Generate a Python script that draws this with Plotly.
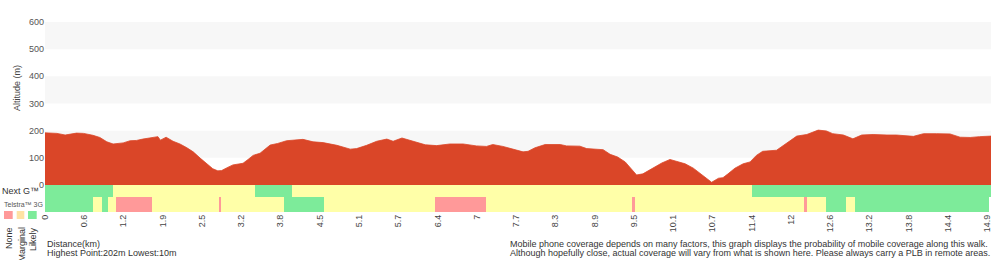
import numpy as np
import plotly.graph_objects as go

# ---------------- data ----------------
DIST_KM = [0.00, 0.19, 0.32, 0.40, 0.50, 0.61, 0.76, 0.87, 0.98, 1.08, 1.24, 1.35, 1.45, 1.55,
           1.67, 1.79, 1.83, 1.92, 2.03, 2.14, 2.25, 2.35, 2.46, 2.56, 2.66, 2.74, 2.80, 2.88,
           2.98, 3.09, 3.14, 3.22, 3.30, 3.41, 3.49, 3.57, 3.69, 3.73, 3.83, 4.09, 4.25, 4.41,
           4.63, 4.84, 4.94, 5.10, 5.26, 5.42, 5.52, 5.66, 5.79, 6.03, 6.21, 6.42, 6.63, 6.84,
           7.00, 7.10, 7.26, 7.37, 7.45, 7.58, 7.66, 7.77, 7.93, 8.17, 8.27, 8.48, 8.59, 8.85,
           8.96, 9.08, 9.20, 9.30, 9.38, 9.48, 9.62, 9.78, 9.91, 10.02, 10.15, 10.28, 10.39,
           10.49, 10.57, 10.68, 10.75, 10.83, 10.94, 11.07, 11.18, 11.28, 11.38, 11.60, 11.71,
           11.81, 11.92, 12.08, 12.18, 12.26, 12.39, 12.49, 12.66, 12.81, 12.95, 13.13, 13.35,
           13.50, 13.77, 13.93, 14.14, 14.35, 14.51, 14.67, 14.82, 15.00]
ELEV_M = [192, 190, 184, 187, 191, 190, 183, 175, 159, 151, 155, 163, 164, 169,
          174, 178, 165, 176, 161, 151, 137, 122, 99, 80, 60, 52, 53, 63,
          74, 78, 80, 94, 109, 117, 132, 147, 153, 156, 163, 168, 159, 156,
          146, 132, 134, 146, 161, 169, 161, 173, 165, 148, 145, 151, 151, 144,
          142, 149, 142, 135, 130, 122, 124, 137, 149, 149, 144, 143, 134, 130,
          113, 103, 85, 56, 37, 41, 60, 81, 94, 87, 78, 62, 41,
          22, 10, 25, 27, 41, 62, 78, 85, 109, 124, 128, 146,
          165, 180, 186, 196, 202, 199, 189, 184, 170, 184, 186, 184,
          184, 179, 189, 189, 188, 176, 175, 178, 180]

X_TICK_LABELS = ["0", "0.6", "1.2", "1.9", "2.5", "3.2", "3.8", "4.5", "5.1", "5.7", "6.4", "7",
                 "7.7", "8.3", "8.9", "9.5", "10.1", "10.7", "11.4", "12", "12.6", "13.2",
                 "13.8", "14.4", "14.9"]
Y_TICKS = [0, 100, 200, 300, 400, 500, 600]

# coverage: N = none, M = marginal, L = likely
NEXTG_BOUNDS = [0.0, 1.08, 3.33, 3.92, 11.21, 15.0]
NEXTG_LEVELS = ["L", "M", "L", "M", "L"]
G3_BOUNDS = [0.0, 0.76, 0.90, 1.00, 1.13, 1.70, 2.77, 2.79, 3.79, 4.42, 6.18, 6.99, 9.31,
             9.36, 12.04, 12.08, 12.38, 12.70, 12.84, 14.97]
G3_LEVELS = ["L", "M", "L", "M", "N", "M", "N", "M", "L", "M", "N", "M", "N", "M", "N",
             "M", "L", "M", "L"]
LEVEL_NAMES = ["None", "Marginal", "Likely"]

# ---------------- styling ----------------
RED = "#da4628"
COL = {"N": "#ff9999", "M": "#ffffa8", "L": "#7deb9a"}
LEGEND_COL = ["#ff9999", "#ffe2a4", "#7deb9a"]
FONT = "Liberation Sans, Arial, Helvetica, sans-serif"
W, H = 1000, 260
ML, MR, MT, MB = 45, 9, 22, 48
PW, PH = W - ML - MR, H - MT - MB
STRIP_PX = 27
SPLIT = STRIP_PX / PH
X_END_TICK = 14.94


def px(x):
    return (x - ML) / PW


def py(y):
    return (H - MB - y) / PH


fig = go.Figure()

# elevation area
fig.add_trace(go.Scatter(x=DIST_KM, y=ELEV_M, mode="lines", fill="tozeroy",
                         fillcolor=RED, line=dict(color=RED, width=0.8),
                         xaxis="x", yaxis="y", hoverinfo="skip", showlegend=False))

# coverage rows (y2 axis in pixel-like units: 0..27)
rows = [(NEXTG_BOUNDS, NEXTG_LEVELS, 21.0, 12.0), (G3_BOUNDS, G3_LEVELS, 7.5, 15.0)]
for bounds, levels, center, thick in rows:
    for lv in ["M", "L", "N"]:
        starts = [bounds[i] for i in range(len(levels)) if levels[i] == lv]
        lens = [bounds[i + 1] - bounds[i] for i in range(len(levels)) if levels[i] == lv]
        if not starts:
            continue
        fig.add_trace(go.Bar(orientation="h", base=starts, x=lens, y=[center] * len(starts),
                             width=[thick] * len(starts),
                             marker=dict(color=COL[lv], line=dict(width=0)),
                             xaxis="x", yaxis="y2", hoverinfo="skip", showlegend=False))

# background bands
shapes = []
for y0 in [100, 300, 500]:
    shapes.append(dict(type="rect", xref="x domain", yref="y", x0=0, x1=1, y0=y0, y1=y0 + 100,
                       fillcolor="#f7f7f7", line=dict(width=0), layer="below"))
# legend squares
for i, (x0, x1) in enumerate([(4, 12.7), (16.7, 24.3), (28, 36.7)]):
    shapes.append(dict(type="rect", xref="paper", yref="paper", x0=px(x0), x1=px(x1),
                       y0=py(219), y1=py(211), fillcolor=LEGEND_COL[i], line=dict(width=0)))

ann = []


def add_text(text, x, y, size=9, color="#333", xanchor="left", yanchor="middle", angle=0):
    ann.append(dict(text=text, x=px(x), y=py(y), xref="paper", yref="paper", showarrow=False,
                    xanchor=xanchor, yanchor=yanchor, textangle=angle,
                    font=dict(size=size, color=color, family=FONT)))


add_text("Altitude (m)", 17, 88, size=9, color="#444", xanchor="center", angle=-90)
add_text("Next G™", 0, 191, size=9, color="#333")
add_text("Telstra™ 3G", 2, 204, size=7, color="#555")
for name, xc in zip(LEVEL_NAMES, [9, 21, 33]):
    add_text(name, xc, 225, size=9, color="#333", xanchor="center", yanchor="top", angle=-90)
add_text("Distance(km)", 45, 244, size=9, color="#333")
add_text("Highest Point:%dm Lowest:%dm" % (max(ELEV_M), min(ELEV_M)), 45, 253, size=9, color="#333")
add_text("Mobile phone coverage depends on many factors, this graph displays the probability of "
         "mobile coverage along this walk.", 508, 244, size=9, color="#333")
add_text("Although hopefully close, actual coverage will vary from what is shown here. Please "
         "always carry a PLB in remote areas.", 508, 253, size=9, color="#333")

fig.update_layout(
    width=W, height=H, margin=dict(l=ML, r=MR, t=MT, b=MB),
    paper_bgcolor="white", plot_bgcolor="white", showlegend=False,
    barmode="overlay", bargap=0,
    font=dict(family=FONT, size=9, color="#444"),
    xaxis=dict(range=[0, 15.0], anchor="y2", tickmode="array",
               tickvals=list(np.linspace(0, X_END_TICK, len(X_TICK_LABELS))),
               ticktext=X_TICK_LABELS, tickangle=-90, showgrid=False, zeroline=False,
               showline=False, ticks="", tickfont=dict(size=9, color="#444", family=FONT)),
    yaxis=dict(domain=[SPLIT, 1], range=[0, 600], tickvals=Y_TICKS, showgrid=False,
               zeroline=False, showline=False, ticks="",
               tickfont=dict(size=9, color="#555", family=FONT)),
    yaxis2=dict(domain=[0, SPLIT], range=[0, STRIP_PX], visible=False, fixedrange=True),
    shapes=shapes, annotations=ann,
)

fig.write_html("out.html")
